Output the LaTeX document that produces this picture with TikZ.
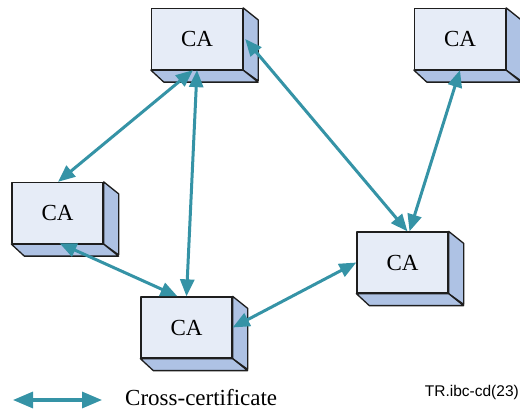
\documentclass[tikz,border=0pt]{standalone}
\usepackage{fontspec}
\setmainfont{Liberation Serif}
\newfontfamily\labelsans{Liberation Sans}
\usetikzlibrary{arrows.meta}
\definecolor{boxfront}{HTML}{E6ECF7}
\definecolor{boxside}{HTML}{AEC2E4}
\definecolor{boxline}{HTML}{1E1E1E}
\definecolor{certline}{HTML}{3593A6}
\tikzset{
  cabox/.style={draw=boxline, fill=boxfront, line width=1.3pt, line join=round,
    minimum width=91pt, minimum height=61pt, inner sep=0pt,
    font=\fontsize{23}{23}\selectfont},
  boxface/.style={draw=boxline, fill=boxside, line width=1.3pt, line join=round},
  crosscert/.style={draw=certline, line width=3pt,
    {Triangle[length=17pt,width=14pt]}-{Triangle[length=17pt,width=14pt]}},
  legendarrow/.style={draw=certline, line width=3.2pt,
    {Triangle[length=20pt,width=16pt]}-{Triangle[length=20pt,width=16pt]}},
}
\begin{document}
\begin{tikzpicture}[x=1pt,y=-1pt]
\useasboundingbox (0,0) rectangle (520,414);

% certification authorities (front faces)
\node[cabox] (a) at (197,39)    {CA};
\node[cabox] (b) at (460,39)    {CA};
\node[cabox] (c) at (57.5,213)  {CA};
\node[cabox] (d) at (186.5,327.5) {CA};
\node[cabox] (e) at (402.5,262.5) {CA};

% right and bottom faces of each box
\foreach \n in {a,b,c,d,e} {
  \path[boxface] (\n.north east) -- ++(15,12) -- ++(0,61) -- (\n.south east) -- cycle;
  \path[boxface] (\n.south west) -- (\n.south east) -- ++(15,12) -- ([shift={(13,12)}]\n.south west) -- cycle;
}

% cross-certificates
\draw[crosscert] ([xshift=-4pt]a.south) -- ([xshift=0.5pt]c.north);
\draw[crosscert] (a.south) -- (d.north);
\draw[crosscert] ([xshift=2pt]a.east) -- ([xshift=5pt]e.north);
\draw[crosscert] (b.south) -- ([xshift=7pt]e.north);
\draw[crosscert] ([xshift=2pt,yshift=1pt]c.south) -- ([xshift=-9pt]d.north);
\draw[crosscert] (d.east) -- (e.west);

% legend
\coordinate (l1) at (13,400);
\coordinate (l2) at (102,400);
\draw[legendarrow] (l1) -- (l2);
\node[anchor=base west, inner sep=0pt, font=\fontsize{23}{23}\selectfont] (lt) at (125,406) {Cross-certificate};
\node[anchor=base east, inner sep=0pt, font=\labelsans\fontsize{15.5}{15.5}\selectfont] (ref) at (519,396) {TR.ibc-cd(23)};
\end{tikzpicture}
\end{document}
